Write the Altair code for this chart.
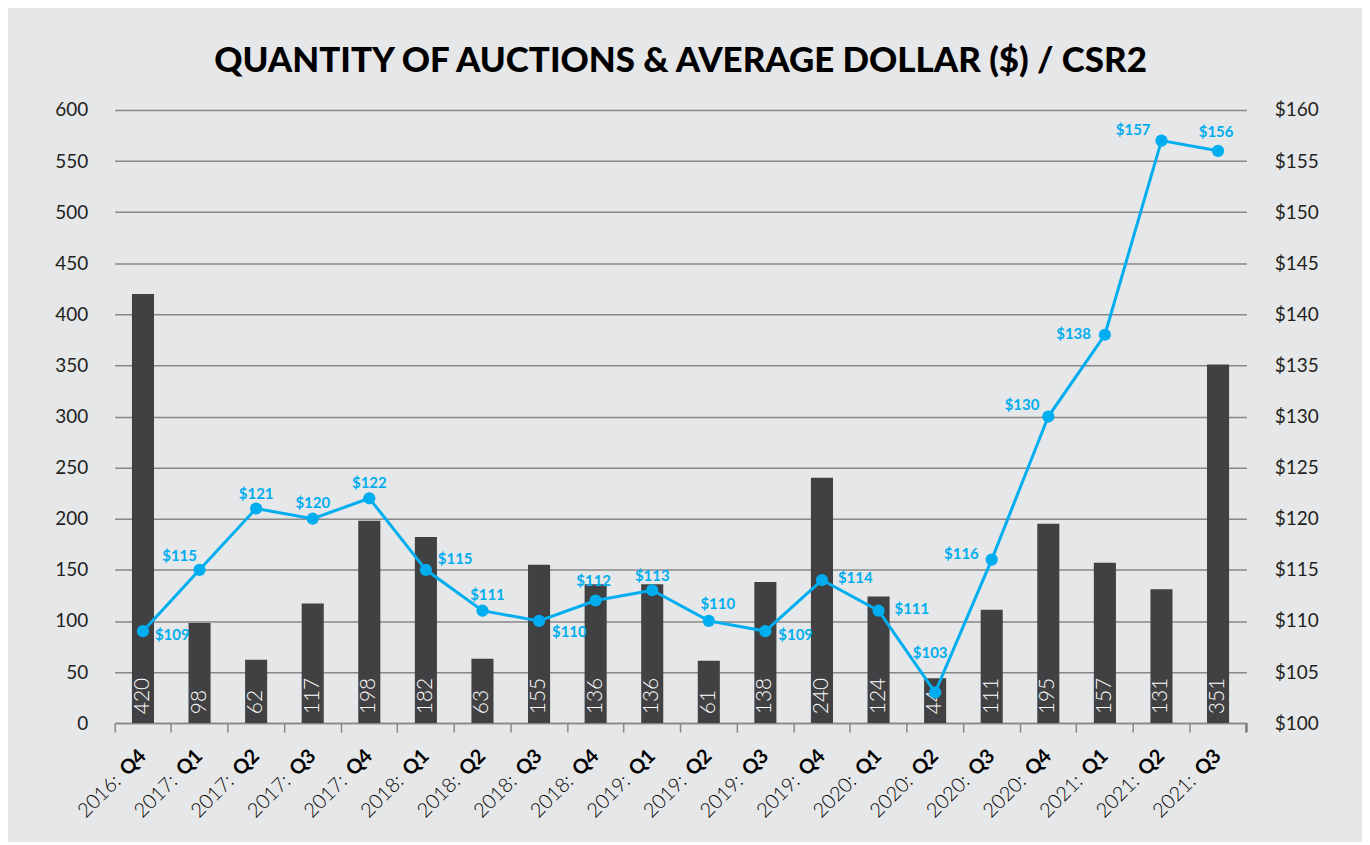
import altair as alt
import pandas as pd

# ---- data ----
quarters = ["2016: Q4", "2017: Q1", "2017: Q2", "2017: Q3", "2017: Q4",
            "2018: Q1", "2018: Q2", "2018: Q3", "2018: Q4",
            "2019: Q1", "2019: Q2", "2019: Q3", "2019: Q4",
            "2020: Q1", "2020: Q2", "2020: Q3", "2020: Q4",
            "2021: Q1", "2021: Q2", "2021: Q3"]
auctions = [420, 98, 62, 117, 198, 182, 63, 155, 136, 136,
            61, 138, 240, 124, 44, 111, 195, 157, 131, 351]
avg_price = [109, 115, 121, 120, 122, 115, 111, 110, 112, 113,
             110, 109, 114, 111, 103, 116, 130, 138, 157, 156]
left_ticks = list(range(0, 601, 50))
right_ticks = list(range(100, 161, 5))
title_text = "QUANTITY OF AUCTIONS & AVERAGE DOLLAR ($) / CSR2"

df = pd.DataFrame({"quarter": quarters, "auctions": auctions, "price": avg_price})
df["year"] = [q.split(" ")[0] for q in quarters]
df["q"] = [q.split(" ")[1] for q in quarters]
df["price_label"] = ["$" + str(v) for v in avg_price]

# ---- style ----
W, H = 1135, 615
BG = "#e6e7e8"
BAR = "#414042"
BLUE = "#00aeef"
GRID = "#878787"
FONT = "Lato"
TXT = "#231f20"

xenc = alt.X("quarter:N", sort=quarters,
             scale=alt.Scale(paddingInner=0, paddingOuter=0),
             axis=alt.Axis(labels=False, title=None, grid=False, domain=True,
                           domainColor=GRID, domainWidth=1.5, ticks=True,
                           tickColor=GRID, tickWidth=1.5, tickSize=9,
                           bandPosition=0))

yleft = alt.Y("auctions:Q", scale=alt.Scale(domain=[0, 600], nice=False),
              axis=alt.Axis(values=left_ticks, title=None, grid=True,
                            gridColor=GRID, gridWidth=1.5, domain=False,
                            ticks=False, labelFont=FONT, labelFontSize=19,
                            labelColor=TXT, labelPadding=27,
                            labelFontWeight="normal"))

bars = alt.Chart(df).mark_bar(color=BAR, width=alt.RelativeBandSize(0.39)).encode(
    x=xenc, y=yleft)

bar_text = alt.Chart(df).mark_text(
    angle=270, align="left", baseline="middle", dx=9, color="white",
    font=FONT, fontSize=21, fontWeight=300).encode(
    x=xenc, y=alt.Y("zero:Q", scale=alt.Scale(domain=[0, 600], nice=False)),
    text="auctions:Q").transform_calculate(zero="0")

qlab = alt.Chart(df).mark_text(
    angle=315, align="right", baseline="middle", color="black",
    font=FONT, fontSize=20, fontWeight="bold").encode(
    x=xenc, y=alt.value(H + 30), text="q:N")

ylab = alt.Chart(df).mark_text(
    angle=315, align="right", baseline="middle", color="black",
    font=FONT, fontSize=20, fontWeight=300, dx=-36).encode(
    x=xenc, y=alt.value(H + 30), text="year:N")

end_tick = alt.Chart(df).mark_rule(color=GRID, strokeWidth=1.5).encode(
    x=alt.value(W), y=alt.value(H), y2=alt.value(H + 9))

bar_group = alt.layer(bars, bar_text, qlab, ylab, end_tick)

yright = alt.Y("price:Q", scale=alt.Scale(domain=[100, 160], nice=False),
               axis=alt.Axis(orient="right", values=right_ticks, title=None,
                             grid=False, domain=False, ticks=False,
                             labelExpr="'$' + datum.value", labelFont=FONT,
                             labelFontSize=19, labelColor=TXT,
                             labelPadding=28, labelFontWeight="normal"))

line = alt.Chart(df).mark_line(color=BLUE, strokeWidth=3).encode(
    x=xenc, y=yright)
points = alt.Chart(df).mark_circle(color=BLUE, size=150, opacity=1).encode(
    x=xenc, y=yright)

# label placement around each point (align, dx, dy)
placements = {
    "2016: Q4": ("left", 12, 4),
    "2017: Q1": ("center", -20, -14),
    "2017: Q2": ("center", 0, -15),
    "2017: Q3": ("center", 0, -16),
    "2017: Q4": ("center", 0, -15),
    "2018: Q1": ("left", 12, -11),
    "2018: Q2": ("center", 5, -16),
    "2018: Q3": ("left", 13, 11),
    "2018: Q4": ("center", -2, -20),
    "2019: Q1": ("center", 0, -14),
    "2019: Q2": ("center", 9, -17),
    "2019: Q3": ("left", 13, 4),
    "2019: Q4": ("left", 16, -2),
    "2020: Q1": ("left", 16, -2),
    "2020: Q2": ("center", -5, -40),
    "2020: Q3": ("right", -13, -6),
    "2020: Q4": ("right", -9, -12),
    "2021: Q1": ("right", -14, -1),
    "2021: Q2": ("right", -11, -11),
    "2021: Q3": ("center", -2, -19),
}
groups = {}
for q, p in placements.items():
    groups.setdefault(p, []).append(q)

label_layers = []
for (al, dx, dy), qs in groups.items():
    label_layers.append(
        alt.Chart(df).mark_text(
            align=al, baseline="middle", dx=dx, dy=dy, color=BLUE,
            font=FONT, fontSize=15, fontWeight="bold").encode(
            x=xenc, y=yright, text="price_label:N").transform_filter(
            alt.FieldOneOfPredicate(field="quarter", oneOf=qs)))

line_group = alt.layer(line, points, *label_layers)

chart = alt.layer(bar_group, line_group).resolve_scale(y="independent").properties(
    width=W, height=H,
    background=BG,
    padding={"left": 107, "top": 101, "right": 116, "bottom": 118},
    autosize=alt.AutoSizeParams(type="none"),
    title=alt.Title(title_text, font=FONT, fontSize=35, fontWeight=900,
                    color="black", anchor="middle", frame="group",
                    offset=-6, baseline="alphabetic"),
).configure_view(stroke=None)

chart.save("out.html", embed_options={"renderer": "svg", "actions": False})
